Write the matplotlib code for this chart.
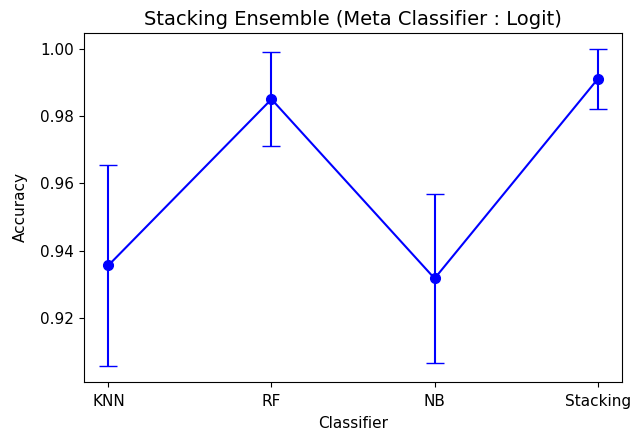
import numpy as np
from matplotlib import pyplot as plt

# Cross-validated accuracy of each classifier (mean and std)
classifiers = ['KNN', 'RF', 'NB', 'Stacking']
acc_mean = [0.9356, 0.9851, 0.9317, 0.9911]
acc_std = [0.0300, 0.0140, 0.0251, 0.0090]

fig = plt.figure(figsize=(6.31, 4.34), dpi=100)
ax = fig.add_axes([0.133, 0.120, 0.853, 0.804])

ax.errorbar(classifiers, acc_mean, yerr=acc_std, color='b', marker='o',
            markersize=7, capsize=6.5, linewidth=1.5)

ax.set_title('Stacking Ensemble (Meta Classifier : Logit)', fontsize=14)
ax.set_xlabel('Classifier', fontsize=11, labelpad=5)
ax.set_ylabel('Accuracy', fontsize=11, labelpad=9)
ax.tick_params(labelsize=11)
ax.tick_params(axis='x', pad=5.5)

fig.savefig('out.png')
